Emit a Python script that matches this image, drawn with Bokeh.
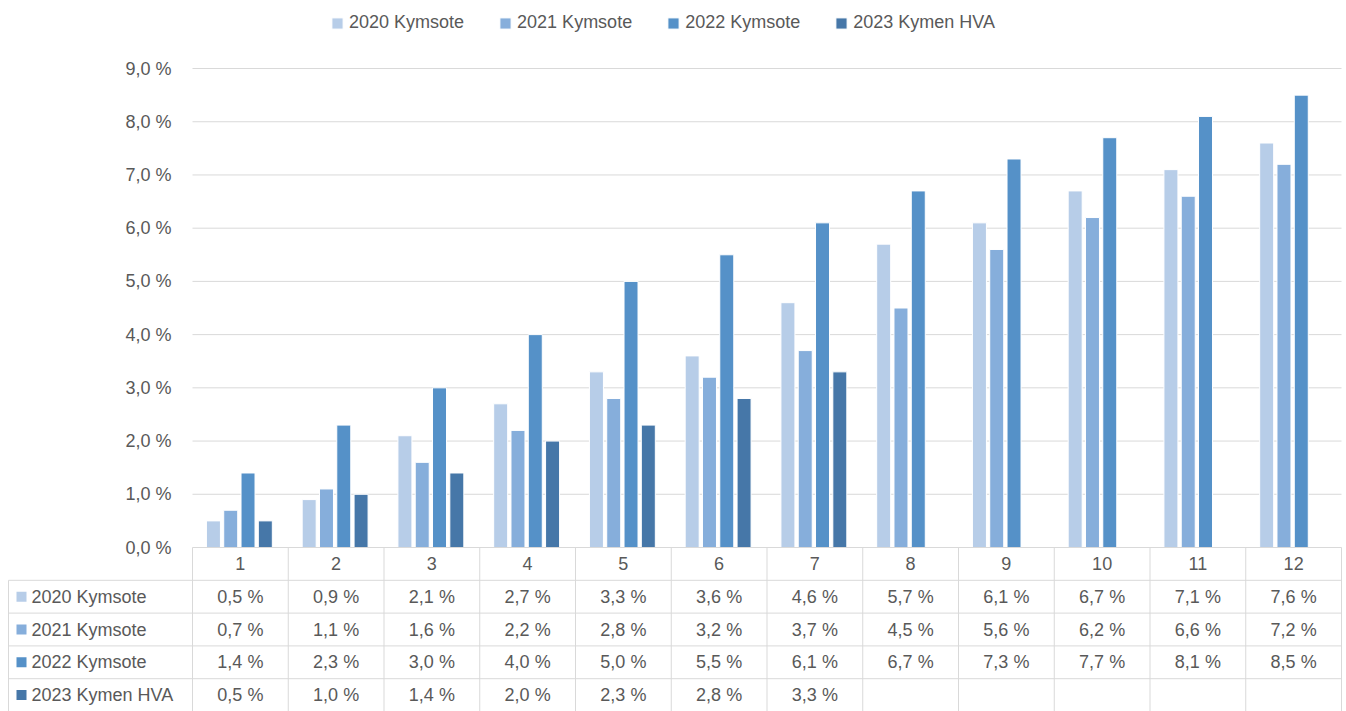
from bokeh.plotting import figure
from bokeh.models import Range1d, ColumnDataSource, Legend, LegendItem
from bokeh.core.properties import value
from bokeh.embed import file_html
from bokeh.resources import INLINE

# ---- data ----
categories = ["1", "2", "3", "4", "5", "6", "7", "8", "9", "10", "11", "12"]
series_names = ["2020 Kymsote", "2021 Kymsote", "2022 Kymsote", "2023 Kymen HVA"]
v2020 = [0.5, 0.9, 2.1, 2.7, 3.3, 3.6, 4.6, 5.7, 6.1, 6.7, 7.1, 7.6]
v2021 = [0.7, 1.1, 1.6, 2.2, 2.8, 3.2, 3.7, 4.5, 5.6, 6.2, 6.6, 7.2]
v2022 = [1.4, 2.3, 3.0, 4.0, 5.0, 5.5, 6.1, 6.7, 7.3, 7.7, 8.1, 8.5]
v2023 = [0.5, 1.0, 1.4, 2.0, 2.3, 2.8, 3.3, None, None, None, None, None]
y_ticks = [0, 1, 2, 3, 4, 5, 6, 7, 8, 9]
colors = ["#B7CDE8", "#86AEDB", "#5591C8", "#4677A8"]
series_values = [v2020, v2021, v2022, v2023]

FONT = value("Liberation Sans")
TXT = "#595959"
GRID = "#D9D9D9"
FS = "18px"

# ---- layout helpers (pixel geometry of the reference) ----
W, H = 1346, 711
CAT_PX = 95.75          # px per category
PCT_PX = 53.22          # px per 1 %
X0, Y0 = 192, 547       # canvas position of data origin


def dx(px):
    return px / CAT_PX


def dy(px):
    return px / PCT_PX


x_start = -dx(X0)
x_end = dx(W - X0)
y_top = dy(Y0)
y_bot = -dy(H - Y0)

p = figure(width=W, height=H, output_backend="svg", toolbar_location=None,
           x_range=Range1d(x_start, x_end), y_range=Range1d(y_bot, y_top),
           min_border=0, outline_line_color=None)
p.xaxis.visible = False
p.yaxis.visible = False
p.xgrid.visible = False
p.ygrid.visible = False

n = len(categories)

# grid lines
gy = [t for t in y_ticks if t > 0]
p.segment(x0=[0] * len(gy), x1=[n] * len(gy), y0=gy, y1=gy, line_color=GRID, line_width=1)

# y tick labels
p.text(x=[-dx(21)] * len(y_ticks), y=y_ticks,
       text=[f"{t:.1f} %".replace(".", ",") for t in y_ticks],
       text_align="right", text_baseline="middle", text_font=FONT,
       text_font_size=FS, text_color=TXT)

# bars
step = dx(17.3)
shift = -dx(1.0)
offsets = [(-1.5 + i) * step + shift for i in range(4)]
bar_w = dx(14)
renderers = []
for i, (name, vals, col) in enumerate(zip(series_names, series_values, colors)):
    xs, tops = [], []
    for j, v in enumerate(vals):
        if v is not None:
            xs.append(j + 0.5 + offsets[i])
            tops.append(v)
    src = ColumnDataSource(dict(x=xs, top=tops))
    r = p.vbar(x="x", top="top", bottom=0, width=bar_w, source=src,
               fill_color=col, line_color="white", line_width=1)
    renderers.append(r)

# ---- data table ----
row_h = dy(32.8)
n_rows = len(series_names)
table_bottom = -row_h * (n_rows + 1)
left_edge = x_start + dx(8)

# axis line / table top
p.segment(x0=[0], x1=[n], y0=[0], y1=[0], line_color=GRID, line_width=1)
# horizontal row lines
hy = [-row_h * (k + 1) for k in range(n_rows + 1)]
p.segment(x0=[left_edge] * len(hy), x1=[n] * len(hy), y0=hy, y1=hy,
          line_color=GRID, line_width=1)
# vertical lines
vx = list(range(n + 1))
p.segment(x0=vx, x1=vx, y0=[0] * len(vx), y1=[table_bottom] * len(vx),
          line_color=GRID, line_width=1)
p.segment(x0=[left_edge], x1=[left_edge], y0=[-row_h], y1=[table_bottom],
          line_color=GRID, line_width=1)

# header
p.text(x=[j + 0.5 for j in range(n)], y=[-row_h / 2] * n, text=categories,
       text_align="center", text_baseline="middle", text_font=FONT,
       text_font_size=FS, text_color=TXT)

# rows
for i, (name, vals, col) in enumerate(zip(series_names, series_values, colors)):
    yc = -row_h * (i + 1.5)
    p.scatter(x=[x_start + dx(21)], y=[yc], marker="square", size=10,
              fill_color=col, line_color=None)
    p.text(x=[x_start + dx(31)], y=[yc], text=[name], text_align="left",
           text_baseline="middle", text_font=FONT, text_font_size=FS, text_color=TXT)
    xs, labels = [], []
    for j, v in enumerate(vals):
        if v is not None:
            xs.append(j + 0.5)
            labels.append(f"{v:.1f} %".replace(".", ","))
    p.text(x=xs, y=[yc] * len(xs), text=labels, text_align="center",
           text_baseline="middle", text_font=FONT, text_font_size=FS, text_color=TXT)

# legend
legend = Legend(items=[LegendItem(label=nm, renderers=[r]) for nm, r in zip(series_names, renderers)],
                orientation="horizontal", location=(330, H - 33),
                glyph_width=14, glyph_height=14, label_standoff=5, spacing=34,
                padding=0, margin=0, border_line_color=None, background_fill_alpha=0,
                label_text_font="Liberation Sans", label_text_font_size=FS,
                label_text_color=TXT)
p.add_layout(legend)

open("out.html", "w").write(file_html(p, INLINE))
